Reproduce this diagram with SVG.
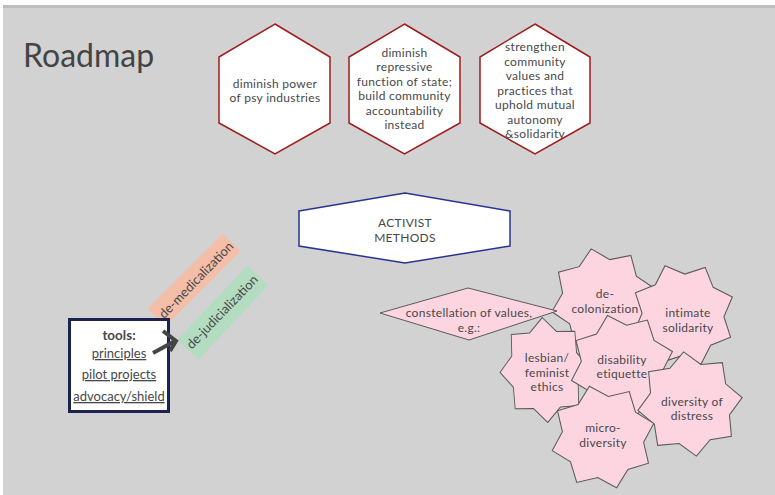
<svg xmlns="http://www.w3.org/2000/svg" xmlns:xlink="http://www.w3.org/1999/xlink" width="775" height="495" viewBox="0 0 775 495">
<style>
text{font-family:Lato,"Open Sans","Liberation Sans",sans-serif;fill:#484848;font-size:12px;letter-spacing:0.3px;text-anchor:middle}
.hex{fill:#fff;stroke:#9e1c1c;stroke-width:1.5}
.star{fill:#fcd5e1;stroke:#5a5a5a;stroke-width:1}
.ul{text-decoration:underline;font-size:13px;letter-spacing:0}
.lbl{font-size:13px;letter-spacing:0}
</style>
<defs>
<polygon id="star8" points="0,-50 14.92,-36.03 35.36,-35.36 36.03,-14.92 50,0 36.03,14.92 35.36,35.36 14.92,36.03 0,50 -14.92,36.03 -35.36,35.36 -36.03,14.92 -50,0 -36.03,-14.92 -35.36,-35.36 -14.92,-36.03"/>
</defs>
<rect width="775" height="495" fill="#fff"/>
<rect x="3" y="5" width="772" height="490" fill="#d2d2d2"/>
<rect x="3" y="5" width="772" height="3" fill="#bdbdbd"/>
<text x="23" y="67" style="font-size:32px;letter-spacing:0;text-anchor:start;fill:#444">Roadmap</text>

<g id="hex-psy">
<polygon class="hex" points="275,24 330,57 330,123 275,154 219,123 219,57"/>
<text x="275" y="87.5">diminish power<tspan x="275" dy="14.5">of psy industries</tspan></text>
</g>
<g id="hex-state">
<polygon class="hex" points="404.5,24 460,57 460,123 404.5,154 349,123 349,57"/>
<text x="404.5" y="56.5">diminish<tspan x="404.5" dy="14.5">repressive</tspan><tspan x="404.5" dy="14.5">function of state;</tspan><tspan x="404.5" dy="14.5">build community</tspan><tspan x="404.5" dy="14.5">accountability</tspan><tspan x="404.5" dy="14.5">instead</tspan></text>
</g>
<g id="hex-community">
<polygon class="hex" points="535,24 590,57 590,123 535,154 480,123 480,57"/>
<text x="535" y="51">strengthen<tspan x="535" dy="14.5">community</tspan><tspan x="535" dy="14.5">values and</tspan><tspan x="535" dy="14.5">practices that</tspan><tspan x="535" dy="14.5">uphold mutual</tspan><tspan x="535" dy="14.5">autonomy</tspan><tspan x="535" dy="14.5">&amp;solidarity</tspan></text>
</g>
<g id="activist-methods">
<polygon points="299,211 405,193 510,211 510,246 405,263 299,246" fill="#fff" stroke="#263593" stroke-width="1.5"/>
<text x="405" y="226.5">ACTIVIST<tspan x="405" dy="15">METHODS</tspan></text>
</g>

<g id="de-medicalization">
<rect x="-53" y="-12.5" width="106" height="25" fill="#f5bea9" transform="translate(194,280) rotate(-45)"/>
<text class="lbl" x="0" y="4.5" transform="translate(196,280) rotate(-46)">de-medicalization</text>
</g>
<g id="de-judicialization">
<rect x="-51" y="-14.5" width="102" height="29" fill="#b3dcc0" transform="translate(223,312.5) rotate(-47)"/>
<text class="lbl" x="0" y="4.5" transform="translate(222,312) rotate(-46)">de-judicialization</text>
</g>

<g id="tools">
<rect x="69.5" y="319.5" width="99" height="92" fill="#fff" stroke="#1c2351" stroke-width="3"/>
<text x="119" y="340" style="font-weight:bold;font-size:13.5px;letter-spacing:0">tools:</text>
<text x="119" y="358" class="ul">principles</text>
<text x="119" y="379" class="ul">pilot projects</text>
<text x="119" y="401" class="ul">advocacy/shield</text>
</g>

<g id="connectors" fill="none" stroke="#454545" stroke-width="4">
<line x1="153" y1="353" x2="175" y2="341"/>
<polyline points="163,331 176,341 170,351"/>
</g>

<g id="star-decolonization">
<use xlink:href="#star8" class="star" transform="translate(603,300) rotate(-13) scale(1.05)"/>
<text x="605" y="297.5">de-<tspan x="605" dy="15">colonization</tspan></text>
</g>
<g id="constellation">
<polygon points="380,313 468,288 557,311 469,340" fill="#fcd5e1" stroke="#5a5a5a"/>
<text x="469" y="316.5">constellation of values,<tspan x="469" dy="15">e.g.:</tspan></text>
</g>
<g id="star-intimate">
<use xlink:href="#star8" class="star" transform="translate(683,315) rotate(-20) scale(1.05)"/>
<text x="688" y="317">intimate<tspan x="688" dy="14.5">solidarity</tspan></text>
</g>
<g id="star-lesbian">
<use xlink:href="#star8" class="star" transform="translate(545,370) rotate(-3) scale(0.9,1.05)"/>
<text x="547" y="362">lesbian/<tspan x="547" dy="14.5">feminist</tspan><tspan x="547" dy="14.5">ethics</tspan></text>
</g>
<g id="star-disability">
<use xlink:href="#star8" class="star" transform="translate(622,366) rotate(-16) scale(1.05)"/>
<text x="622" y="363.5">disability<tspan x="622" dy="14.5">etiquette</tspan></text>
</g>
<g id="star-distress">
<use xlink:href="#star8" class="star" transform="translate(690,404) rotate(-7) scale(1.05)"/>
<text x="692" y="405.5">diversity of<tspan x="692" dy="14.5">distress</tspan></text>
</g>
<g id="star-micro">
<use xlink:href="#star8" class="star" transform="translate(603,437) rotate(-15) scale(1.05)"/>
<text x="603" y="431.5">micro-<tspan x="603" dy="15">diversity</tspan></text>
</g>
</svg>
